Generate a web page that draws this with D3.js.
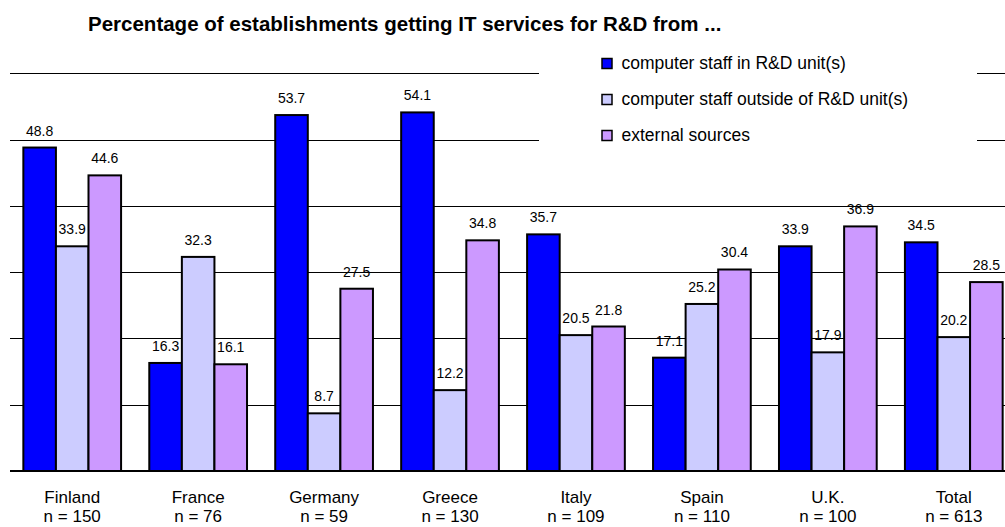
<!DOCTYPE html>
<html>
<head>
<meta charset="utf-8">
<script src="https://cdn.jsdelivr.net/npm/d3@7/dist/d3.min.js"></script>
<style>
  html, body { margin: 0; padding: 0; background: #fff; }
  svg { display: block; font-family: Arial, "Liberation Sans", sans-serif; }
</style>
</head>
<body>
<svg id="chart" width="1005" height="527"></svg>
<script>
// Countries and sample sizes
const categories = ["Finland", "France", "Germany", "Greece", "Italy", "Spain", "U.K.", "Total"];
const sampleSizes = ["n = 150", "n = 76", "n = 59", "n = 130", "n = 109", "n = 110", "n = 100", "n = 613"];

// Series names and colours
const seriesNames = [
  "computer staff in R&D unit(s)",
  "computer staff outside of R&D unit(s)",
  "external sources"
];
const seriesColors = ["#0000FF", "#CCCCFF", "#CC99FF"];

// Percentages per series, one value per country
const staffInUnit = [48.8, 16.3, 53.7, 54.1, 35.7, 17.1, 33.9, 34.5];
const staffOutside = [33.9, 32.3, 8.7, 12.2, 20.5, 25.2, 17.9, 20.2];
const externalSources = [44.6, 16.1, 27.5, 34.8, 21.8, 30.4, 36.9, 28.5];

// Value-axis gridline ticks
const yTicks = [10, 20, 30, 40, 50, 60];

const seriesValues = [staffInUnit, staffOutside, externalSources];

const svg = d3.select("#chart");
const W = 1005;
const plot = { left: 10, right: 1016, top: 73.3, bottom: 471 };

const x = d3.scaleBand()
  .domain(categories)
  .range([plot.left, plot.right])
  .paddingInner(0.224)
  .paddingOuter(0.106);

const xs = d3.scaleBand()
  .domain(d3.range(seriesNames.length))
  .range([0, x.bandwidth()]);

const y = d3.scaleLinear().domain([0, 60]).range([plot.bottom, plot.top]);

// Gridlines
svg.append("g")
  .selectAll("line")
  .data(yTicks)
  .join("line")
  .attr("x1", plot.left)
  .attr("x2", W)
  .attr("y1", d => Math.round(y(d)) + 0.5)
  .attr("y2", d => Math.round(y(d)) + 0.5)
  .attr("stroke", "#000")
  .attr("stroke-width", 1.2);

// Bars
const groups = svg.append("g")
  .selectAll("g")
  .data(categories)
  .join("g")
  .attr("transform", d => `translate(${x(d)},0)`);

groups.selectAll("rect")
  .data((c, i) => seriesValues.map((vals, s) => ({ s, v: vals[i] })))
  .join("rect")
  .attr("x", d => xs(d.s))
  .attr("width", xs.bandwidth())
  .attr("y", d => y(d.v))
  .attr("height", d => y(0) - y(d.v))
  .attr("fill", d => seriesColors[d.s])
  .attr("stroke", "#000")
  .attr("stroke-width", 2);

// Baseline
svg.append("line")
  .attr("x1", plot.left).attr("x2", W)
  .attr("y1", plot.bottom).attr("y2", plot.bottom)
  .attr("stroke", "#000").attr("stroke-width", 2);

// Value labels
groups.selectAll("text.val")
  .data((c, i) => seriesValues.map((vals, s) => ({ s, v: vals[i] })))
  .join("text")
  .attr("class", "val")
  .attr("x", d => xs(d.s) + xs.bandwidth() / 2)
  .attr("y", d => y(d.v) - 12)
  .attr("text-anchor", "middle")
  .attr("font-size", 14)
  .attr("fill", "#000")
  .text(d => d.v.toFixed(1));

// Category labels
const cat = svg.append("g")
  .selectAll("text")
  .data(categories)
  .join("text")
  .attr("text-anchor", "middle")
  .attr("font-size", 17)
  .attr("fill", "#000");
cat.append("tspan")
  .attr("x", d => x(d) + x.bandwidth() / 2)
  .attr("y", 503)
  .text(d => d);
cat.append("tspan")
  .attr("x", d => x(d) + x.bandwidth() / 2)
  .attr("y", 522)
  .text((d, i) => sampleSizes[i]);

// Legend
const legend = svg.append("g");
legend.append("rect")
  .attr("x", 539).attr("y", 46)
  .attr("width", 438).attr("height", 108)
  .attr("fill", "#fff");
const items = legend.selectAll("g")
  .data(seriesNames)
  .join("g")
  .attr("transform", (d, i) => `translate(602,${63.5 + i * 36})`);
items.append("rect")
  .attr("x", 0).attr("y", -5)
  .attr("width", 10).attr("height", 10)
  .attr("fill", (d, i) => seriesColors[i])
  .attr("stroke", "#000")
  .attr("stroke-width", 1.5);
items.append("text")
  .attr("x", 19.5)
  .attr("y", 5)
  .attr("font-size", 17.5)
  .attr("fill", "#000")
  .text(d => d);

// Title
svg.append("text")
  .attr("x", 88)
  .attr("y", 31)
  .attr("font-size", 20.5)
  .attr("font-weight", "bold")
  .attr("fill", "#000")
  .text("Percentage of establishments getting IT services for R&D from ...");
</script>
</body>
</html>
